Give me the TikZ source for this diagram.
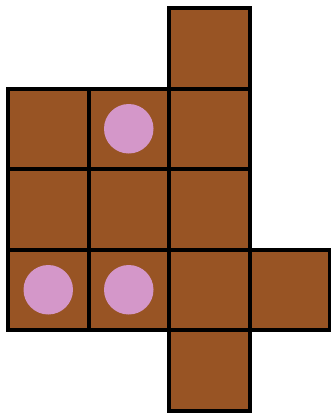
\documentclass[tikz,border=0pt]{standalone}
\definecolor{brownfill}{HTML}{985424}
\definecolor{pinkdot}{HTML}{D497C9}
\begin{document}
\begin{tikzpicture}[x=1pt,y=-1pt,
  cell/.style={draw=black,fill=brownfill,line width=4pt,minimum size=80.5pt,inner sep=0pt,outer sep=0pt},
  dot/.style={circle,fill=pinkdot,minimum size=49.5pt,inner sep=0pt}]
\useasboundingbox (0,0) rectangle (331,413);
\def\p{80.5}
% cells: centers at 8 + p*(i+0.5)
\node[cell] (c02) at ({8+\p*2.5},{8+\p*0.5}) {};
\node[cell] (c10) at ({8+\p*0.5},{8+\p*1.5}) {};
\node[cell] (c11) at ({8+\p*1.5},{8+\p*1.5}) {};
\node[cell] (c12) at ({8+\p*2.5},{8+\p*1.5}) {};
\node[cell] (c20) at ({8+\p*0.5},{8+\p*2.5}) {};
\node[cell] (c21) at ({8+\p*1.5},{8+\p*2.5}) {};
\node[cell] (c22) at ({8+\p*2.5},{8+\p*2.5}) {};
\node[cell] (c30) at ({8+\p*0.5},{8+\p*3.5}) {};
\node[cell] (c31) at ({8+\p*1.5},{8+\p*3.5}) {};
\node[cell] (c32) at ({8+\p*2.5},{8+\p*3.5}) {};
\node[cell] (c33) at ({8+\p*3.5},{8+\p*3.5}) {};
\node[cell] (c42) at ({8+\p*2.5},{8+\p*4.5}) {};
\node[dot] (d11) at (c11.center) {};
\node[dot] (d30) at (c30.center) {};
\node[dot] (d31) at (c31.center) {};
\end{tikzpicture}
\end{document}
